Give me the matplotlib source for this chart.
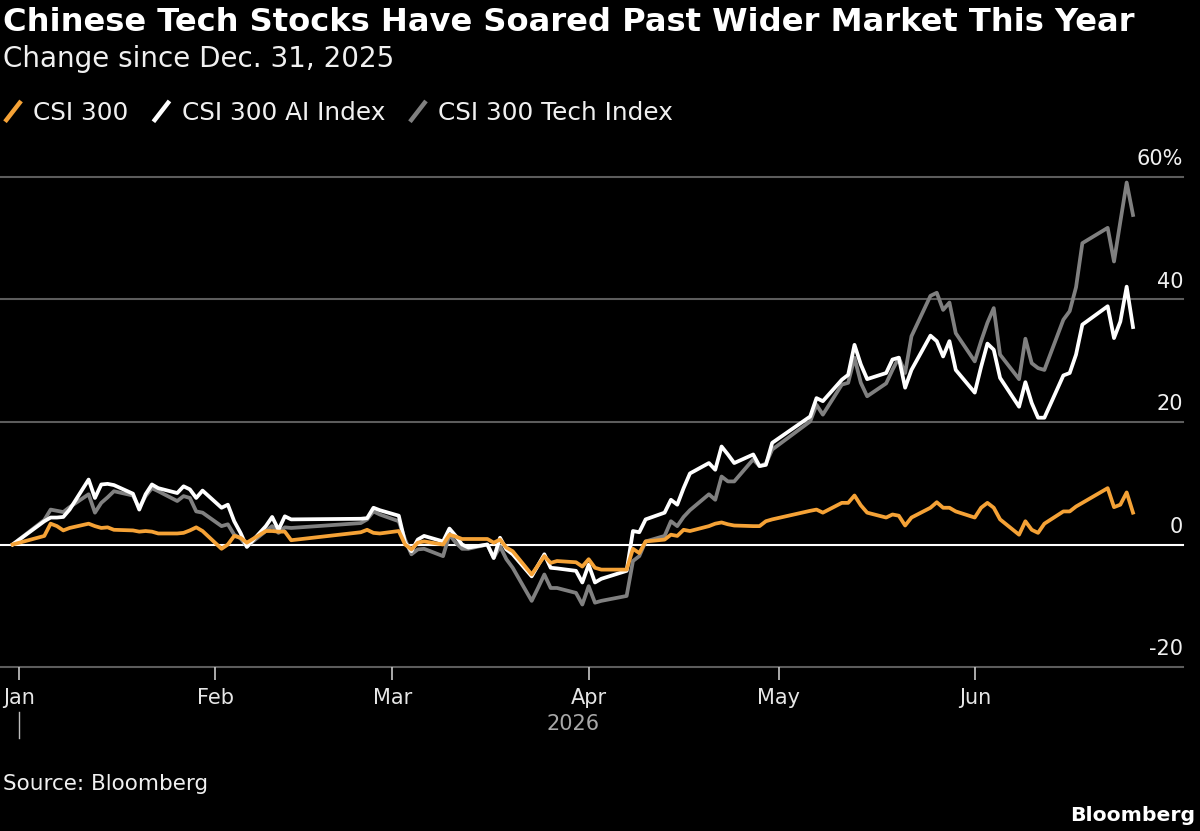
import matplotlib
matplotlib.use("Agg")
import matplotlib.pyplot as plt
import matplotlib.dates as mdates
from matplotlib.lines import Line2D
from matplotlib.legend_handler import HandlerBase
from matplotlib.transforms import blended_transform_factory
import pandas as pd

# trading days of 2026 (holidays skipped), starting from the Dec. 31 base
days_jan = [5, 6, 7, 8, 9, 12, 13, 14, 15, 16, 19, 20, 21, 22, 23, 26, 27, 28, 29, 30]
days_feb = [2, 3, 4, 5, 6, 9, 10, 11, 12, 13, 24, 25, 26, 27]
days_mar = [2, 3, 4, 5, 6, 9, 10, 11, 12, 13, 16, 17, 18, 19, 20, 23, 24, 25, 26, 27, 30, 31]
days_apr = [1, 2, 3, 7, 8, 9, 10, 13, 14, 15, 16, 17, 20, 21, 22, 23, 24, 27, 28, 29, 30]
days_may = [6, 7, 8, 11, 12, 13, 14, 15, 18, 19, 20, 21, 22, 25, 26, 27, 28, 29]
days_jun = [1, 2, 3, 4, 5, 8, 9, 10, 11, 12, 15, 16, 17, 18, 22, 23, 24, 25, 26]

# % change since Dec. 31, 2025
csi300 = [0.0,
    1.4, 3.4, 3.0, 2.3, 2.7, 3.4, 3.0, 2.7, 2.8, 2.4, 2.3, 2.1, 2.2, 2.1, 1.8, 1.8, 1.9, 2.3, 2.8, 2.2,
    -0.7, 0.0, 1.4, 1.1, 0.3, 2.2, 2.2, 2.1, 2.1, 0.7, 2.0, 2.4, 1.9, 1.8,
    2.2, 0.0, -0.8, 0.3, 0.5, 0.0, 1.6, 1.3, 0.9, 0.9, 0.9, 0.3, 0.8, -0.5, -1.1, -4.9, -3.4, -1.9, -3.0, -2.7, -2.9, -3.6,
    -2.4, -3.8, -4.1, -4.1, -0.7, -1.4, 0.5, 0.8, 1.6, 1.4, 2.4, 2.2, 3.0, 3.4, 3.6, 3.3, 3.1, 3.0, 3.0, 3.8, 4.1,
    5.5, 5.7, 5.2, 6.8, 6.8, 8.0, 6.4, 5.2, 4.4, 4.9, 4.7, 3.1, 4.4, 6.0, 6.9, 6.0, 6.0, 5.4,
    4.4, 6.0, 6.8, 6.0, 4.1, 1.6, 3.8, 2.4, 1.9, 3.4, 5.4, 5.4, 6.2, 6.8, 9.2, 6.1, 6.5, 8.5, 5.2]
ai_index = [0.0,
    3.8, 4.4, 4.4, 4.5, 5.7, 10.6, 7.6, 9.8, 9.9, 9.7, 8.3, 5.7, 8.2, 9.8, 9.2, 8.4, 9.5, 9.0, 7.6, 8.8,
    6.0, 6.5, 3.8, 1.9, -0.4, 3.0, 4.5, 2.4, 4.6, 4.1, 4.2, 4.3, 6.0, 5.6,
    4.7, 0.3, -1.1, 0.8, 1.4, 0.5, 2.6, 1.4, 0.0, -0.5, 0.0, -2.2, 1.1, -0.8, -1.6, -5.2, -3.4, -1.6, -3.8, -3.9, -4.3, -6.2,
    -3.3, -6.2, -5.6, -4.3, 2.2, 2.0, 4.1, 5.2, 7.3, 6.5, 9.2, 11.6, 13.3, 12.2, 16.0, 14.7, 13.3, 14.7, 12.8, 13.0, 16.6,
    20.9, 23.9, 23.4, 26.9, 27.7, 32.6, 29.4, 27.0, 28.0, 30.2, 30.5, 25.6, 28.5, 34.1, 33.2, 30.7, 33.2, 28.5,
    24.8, 29.0, 32.8, 31.8, 27.2, 22.5, 26.5, 23.1, 20.7, 20.7, 27.6, 28.0, 31.0, 35.9, 38.9, 33.7, 36.4, 42.1, 35.5]
tech_index = [0.0,
    4.0, 5.7, 5.5, 5.3, 6.1, 8.2, 5.2, 6.8, 7.7, 8.7, 8.0, 6.0, 7.9, 9.2, 8.7, 7.1, 7.9, 7.6, 5.4, 5.2,
    3.0, 3.3, 1.6, 1.0, -0.3, 2.2, 3.0, 1.9, 2.8, 2.7, 3.5, 4.1, 5.4, 4.9,
    3.8, 0.8, -1.6, -0.8, -0.7, -1.9, 1.6, 0.3, -0.7, -0.7, 0.0, -2.2, -0.3, -2.4, -3.8, -9.2, -7.1, -4.9, -7.1, -7.1, -7.9, -9.8,
    -6.8, -9.5, -9.2, -8.4, -2.7, -1.9, 0.5, 1.4, 3.8, 3.0, 4.5, 5.6, 8.2, 7.3, 11.1, 10.3, 10.3, 13.9, 12.8, 13.2, 15.5,
    20.1, 22.8, 21.2, 26.1, 26.4, 30.5, 26.4, 24.2, 26.3, 28.5, 30.5, 28.0, 34.0, 40.6, 41.1, 38.3, 39.5, 34.5,
    29.9, 33.2, 36.2, 38.6, 31.0, 27.0, 33.6, 29.6, 28.8, 28.5, 36.7, 38.1, 42.0, 49.2, 51.7, 46.2, 52.7, 59.1, 53.8]

series_names = ["CSI 300", "CSI 300 AI Index", "CSI 300 Tech Index"]
yticks = [-20, 0, 20, 40, 60]
ytick_labels = ["-20", "0", "20", "40", "60%"]
month_ticks = ["2026-01-01", "2026-02-01", "2026-03-01", "2026-04-01", "2026-05-01", "2026-06-01"]

dates = pd.to_datetime(["2025-12-31"] + [
    f"2026-{m:02d}-{d:02d}"
    for m, ds in enumerate([days_jan, days_feb, days_mar, days_apr, days_may, days_jun], start=1)
    for d in ds])

ORANGE = "#f5a236"
WHITE = "#ffffff"
GRAY = "#808080"
plt.rcParams["font.family"] = "DejaVu Sans"


class Slash(HandlerBase):
    # legend key drawn as a short diagonal stroke
    def create_artists(self, legend, orig_handle, xdescent, ydescent, width, height, fontsize, trans):
        ln = Line2D([-xdescent, width - xdescent],
                    [-ydescent - 0.1 * height, height - ydescent + 0.1 * height],
                    color=orig_handle.get_color(), lw=3.2, solid_capstyle="butt", transform=trans)
        return [ln]


fig = plt.figure(figsize=(12, 8.31), dpi=100, facecolor="black")
ax = fig.add_axes([0, 164 / 831, 1183 / 1200, (667 - 177) / 831])
ax.set_facecolor("black")

jan1 = mdates.date2num(pd.Timestamp("2026-01-01"))
ax.set_xlim(jan1 - 3.0, jan1 + 183.9)
ax.set_ylim(-20, 60)

for v, lab in zip(yticks, ytick_labels):
    ax.axhline(v, color=WHITE if v == 0 else "#5c5c5c", lw=1.5, zorder=1, clip_on=False)
    ax.annotate(lab, xy=(1.0, v), xycoords=ax.get_yaxis_transform(), xytext=(0, 8.5),
                textcoords="offset points", ha="right", va="baseline",
                fontsize=15, color="#f0f0f0")

l_tech, = ax.plot(dates, tech_index, color=GRAY, lw=2.7, zorder=3, label=series_names[2])
l_ai, = ax.plot(dates, ai_index, color=WHITE, lw=2.7, zorder=4, label=series_names[1])
l_csi, = ax.plot(dates, csi300, color=ORANGE, lw=2.7, zorder=5, label=series_names[0])

for s in ax.spines.values():
    s.set_visible(False)
ax.set_yticks([])
ax.set_xticks(mdates.date2num(pd.to_datetime(month_ticks)))
ax.xaxis.set_major_formatter(mdates.DateFormatter("%b"))
ax.tick_params(axis="x", length=9, width=1.2, color="#c8c8c8", pad=6,
               labelsize=15, labelcolor="#e6e6e6")

# year marker under Jan and year label
bt = blended_transform_factory(ax.transData, fig.transFigure)
ax.add_line(Line2D([jan1, jan1], [1 - 712 / 831, 1 - 738 / 831], color="#bdbdbd",
                   lw=1.0, transform=bt, clip_on=False))
mid = (mdates.date2num(dates[0]) + mdates.date2num(dates[-1])) / 2
ax.text(mid, 1 - 724 / 831, "2026", transform=bt, ha="center", va="center",
        fontsize=15, color="#a8a8a8")

fig.text(3 / 1200, 1 - 31 / 831, "Chinese Tech Stocks Have Soared Past Wider Market This Year",
         fontsize=23.1, fontweight="bold", color="white", ha="left", va="baseline")
fig.text(3 / 1200, 1 - 67 / 831, "Change since Dec. 31, 2025",
         fontsize=20, color="#f0f0f0", ha="left", va="baseline")

leg = fig.legend(handles=[l_csi, l_ai, l_tech], labels=series_names,
                 handler_map={Line2D: Slash()}, loc="center left",
                 bbox_to_anchor=(5 / 1200, 1 - 113 / 831), ncol=3, frameon=False,
                 fontsize=17.8, handlelength=0.65, handletextpad=0.5, columnspacing=1.0,
                 borderpad=0, borderaxespad=0)
for t in leg.get_texts():
    t.set_color("#f0f0f0")

fig.text(3 / 1200, 1 - 790 / 831, "Source: Bloomberg", fontsize=15.5, color="#f0f0f0",
         ha="left", va="baseline")
fig.text(1195 / 1200, 1 - 821 / 831, "Bloomberg", fontsize=14.7, fontweight="bold",
         color="white", ha="right", va="baseline")

fig.savefig("out.png", dpi=100, facecolor="black")
